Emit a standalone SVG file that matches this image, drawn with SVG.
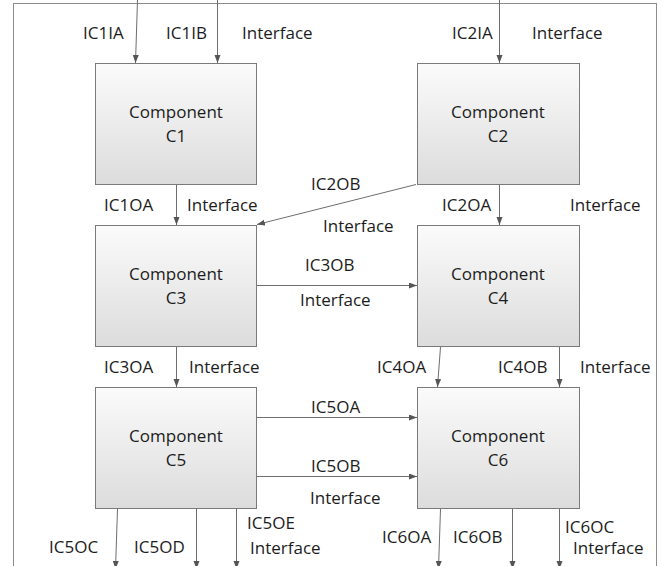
<svg xmlns="http://www.w3.org/2000/svg" width="665" height="566" viewBox="0 0 665 566">
  <style>
    .frame { fill: none; stroke: #8c8c8c; stroke-width: 1; }
    .box { fill: url(#boxFill); stroke: #7a7a7a; stroke-width: 1; }
    .wire { fill: none; stroke: #6e6e6e; stroke-width: 1; marker-end: url(#arrow); }
    text { font-family: "Open Sans", "Noto Sans", "Liberation Sans", sans-serif; font-size: 17px; fill: #1c1c1c; }
    .mid { text-anchor: middle; }
  </style>
  <defs>
    <linearGradient id="boxFill" x1="0" y1="0" x2="0" y2="1">
      <stop offset="0" stop-color="#fbfbfb"/>
      <stop offset="1" stop-color="#dcdcdc"/>
    </linearGradient>
    <marker id="arrow" markerUnits="userSpaceOnUse" markerWidth="9" markerHeight="7" refX="8" refY="3" orient="auto">
      <path d="M0,0 L8,3 L0,6 z" fill="#555555"/>
    </marker>
  </defs>

  <rect class="frame" x="13.5" y="3.5" width="643" height="600"/>

  <!-- components -->
  <g id="c1">
    <rect class="box" x="95.5" y="63.5" width="161" height="121"/>
    <text class="mid" x="176" y="118">Component</text>
    <text class="mid" x="176" y="142">C1</text>
  </g>
  <g id="c2">
    <rect class="box" x="417.5" y="63.5" width="162" height="121"/>
    <text class="mid" x="498" y="118">Component</text>
    <text class="mid" x="498" y="142">C2</text>
  </g>
  <g id="c3">
    <rect class="box" x="95.5" y="225.5" width="161" height="121"/>
    <text class="mid" x="176" y="280">Component</text>
    <text class="mid" x="176" y="304">C3</text>
  </g>
  <g id="c4">
    <rect class="box" x="417.5" y="225.5" width="162" height="121"/>
    <text class="mid" x="498" y="280">Component</text>
    <text class="mid" x="498" y="304">C4</text>
  </g>
  <g id="c5">
    <rect class="box" x="95.5" y="387.5" width="161" height="121"/>
    <text class="mid" x="176" y="442">Component</text>
    <text class="mid" x="176" y="466">C5</text>
  </g>
  <g id="c6">
    <rect class="box" x="417.5" y="387.5" width="162" height="121"/>
    <text class="mid" x="498" y="442">Component</text>
    <text class="mid" x="498" y="466">C6</text>
  </g>

  <!-- connectors -->
  <g id="connectors">
    <line class="wire" x1="137.5" y1="0" x2="135.5" y2="63"/>
    <line class="wire" x1="217.5" y1="0" x2="217.5" y2="63"/>
    <line class="wire" x1="499.5" y1="0" x2="499.5" y2="63"/>
    <line class="wire" x1="176.5" y1="185" x2="176.5" y2="225"/>
    <line class="wire" x1="416" y1="184.5" x2="257" y2="224.5"/>
    <line class="wire" x1="499.5" y1="185" x2="499.5" y2="225"/>
    <line class="wire" x1="257" y1="285.5" x2="417" y2="285.5"/>
    <line class="wire" x1="176.5" y1="347" x2="176.5" y2="387"/>
    <line class="wire" x1="440.5" y1="347" x2="437.5" y2="387"/>
    <line class="wire" x1="559.5" y1="347" x2="559.5" y2="387"/>
    <line class="wire" x1="257" y1="417.5" x2="417" y2="417.5"/>
    <line class="wire" x1="257" y1="476.5" x2="417" y2="476.5"/>
    <line class="wire" x1="117.5" y1="509" x2="115.5" y2="569"/>
    <line class="wire" x1="196.5" y1="509" x2="196.5" y2="569"/>
    <line class="wire" x1="236.5" y1="509" x2="236.5" y2="569"/>
    <line class="wire" x1="440.5" y1="509" x2="438.5" y2="569"/>
    <line class="wire" x1="512.5" y1="509" x2="512.5" y2="569"/>
    <line class="wire" x1="559.5" y1="509" x2="559.5" y2="569"/>
  </g>

  <!-- interface labels -->
  <g id="labels">
    <text x="83" y="39">IC1IA</text>
    <text x="166" y="39">IC1IB</text>
    <text x="242" y="39">Interface</text>
    <text x="452" y="39">IC2IA</text>
    <text x="532" y="39">Interface</text>

    <text x="104" y="211">IC1OA</text>
    <text x="187" y="211">Interface</text>
    <text x="311" y="190">IC2OB</text>
    <text x="323" y="232">Interface</text>
    <text x="442" y="211">IC2OA</text>
    <text x="570" y="211">Interface</text>

    <text x="305" y="271">IC3OB</text>
    <text x="300" y="306">Interface</text>

    <text x="104" y="373">IC3OA</text>
    <text x="189" y="373">Interface</text>
    <text x="377" y="373">IC4OA</text>
    <text x="498" y="373">IC4OB</text>
    <text x="580" y="373">Interface</text>

    <text x="311" y="413">IC5OA</text>
    <text x="311" y="472">IC5OB</text>
    <text x="310" y="504">Interface</text>

    <text x="49" y="553">IC5OC</text>
    <text x="134" y="553">IC5OD</text>
    <text x="247" y="529">IC5OE</text>
    <text x="250" y="554">Interface</text>
    <text x="382" y="543">IC6OA</text>
    <text x="453" y="543">IC6OB</text>
    <text x="565" y="533">IC6OC</text>
    <text x="573" y="554">Interface</text>
  </g>
</svg>
